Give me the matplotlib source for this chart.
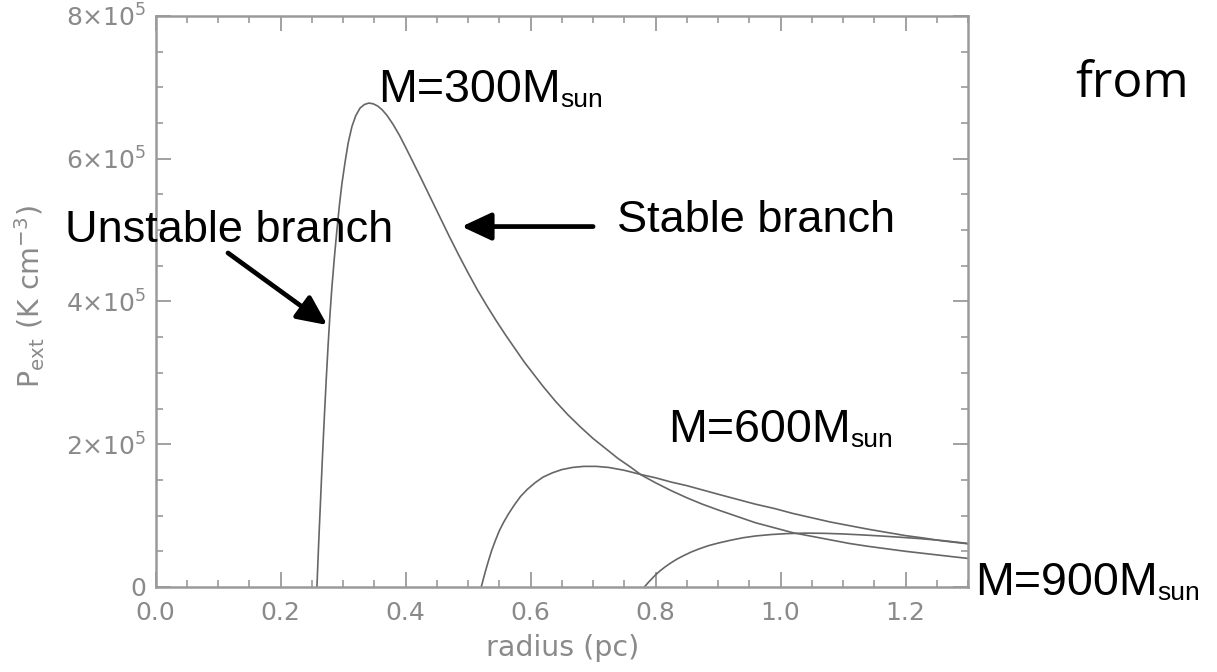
import matplotlib
matplotlib.use("Agg")
import matplotlib.pyplot as plt

# pressure-radius curves for three cloud masses (P in units of 1e5 K cm^-3)
r300 = [0.258, 0.261, 0.264, 0.267, 0.270, 0.273, 0.276, 0.279, 0.282, 0.286,
        0.290, 0.294, 0.298, 0.303, 0.308, 0.314, 0.320, 0.327, 0.334, 0.341,
        0.348, 0.355, 0.362, 0.370, 0.380, 0.390, 0.400, 0.412, 0.425, 0.440,
        0.455, 0.470, 0.485, 0.500, 0.515, 0.530, 0.545, 0.560, 0.575, 0.590,
        0.605, 0.620, 0.640, 0.660, 0.680, 0.700, 0.720, 0.740, 0.760, 0.777,
        0.800, 0.825, 0.850, 0.875, 0.900, 0.930, 0.960, 0.990, 1.020, 1.050,
        1.080, 1.110, 1.140, 1.170, 1.200, 1.230, 1.260, 1.300]
p300 = [0.0, 0.65, 1.25, 1.85, 2.40, 2.92, 3.40, 3.83, 4.20, 4.62,
        5.00, 5.35, 5.65, 5.95, 6.22, 6.45, 6.60, 6.71, 6.76, 6.78,
        6.77, 6.74, 6.69, 6.61, 6.48, 6.33, 6.16, 5.95, 5.72, 5.45,
        5.18, 4.91, 4.65, 4.40, 4.16, 3.94, 3.73, 3.53, 3.34, 3.15,
        2.98, 2.81, 2.60, 2.41, 2.24, 2.08, 1.94, 1.80, 1.68, 1.57,
        1.46, 1.35, 1.25, 1.16, 1.08, 0.99, 0.90, 0.83, 0.76, 0.71,
        0.66, 0.61, 0.57, 0.535, 0.50, 0.47, 0.44, 0.40]

r600 = [0.521, 0.524, 0.528, 0.533, 0.538, 0.544, 0.550, 0.557, 0.565, 0.574,
        0.584, 0.595, 0.607, 0.620, 0.635, 0.650, 0.667, 0.685, 0.705, 0.725,
        0.750, 0.777, 0.800, 0.825, 0.850, 0.875, 0.900, 0.930, 0.960, 0.990,
        1.020, 1.050, 1.080, 1.110, 1.140, 1.170, 1.200, 1.230, 1.260, 1.300]
p600 = [0.0, 0.10, 0.23, 0.38, 0.52, 0.66, 0.79, 0.91, 1.03, 1.15,
        1.27, 1.37, 1.46, 1.54, 1.60, 1.645, 1.675, 1.69, 1.69, 1.675,
        1.635, 1.575, 1.53, 1.47, 1.42, 1.36, 1.30, 1.23, 1.16, 1.10,
        1.03, 0.97, 0.91, 0.86, 0.81, 0.765, 0.72, 0.685, 0.645, 0.605]

r900 = [0.782, 0.785, 0.789, 0.794, 0.800, 0.807, 0.815, 0.824, 0.834, 0.845,
        0.857, 0.870, 0.885, 0.900, 0.920, 0.940, 0.960, 0.985, 1.010, 1.040,
        1.070, 1.100, 1.130, 1.160, 1.190, 1.220, 1.260, 1.300]
p900 = [0.0, 0.03, 0.07, 0.115, 0.17, 0.225, 0.28, 0.335, 0.39, 0.44,
        0.49, 0.535, 0.58, 0.615, 0.655, 0.69, 0.715, 0.735, 0.748, 0.755,
        0.752, 0.743, 0.73, 0.715, 0.698, 0.68, 0.65, 0.61]

xticks = [0.0, 0.2, 0.4, 0.6, 0.8, 1.0, 1.2]
xtick_labels = ["0.0", "0.2", "0.4", "0.6", "0.8", "1.0", "1.2"]
yticks = [0, 2e5, 4e5, 6e5, 8e5]
ytick_labels = ["0", r"$2{\times}10^{5}$", r"$4{\times}10^{5}$",
                r"$6{\times}10^{5}$", r"$8{\times}10^{5}$"]

W, H = 1217, 672
AX_GREY = "#9a9a9a"
TXT_GREY = "#8a8a8a"
LINE_GREY = "#666666"


def fx(px):
    return px / W


def fy(py):
    return 1 - py / H


fig = plt.figure(figsize=(W / 100, H / 100), dpi=100)
ax = fig.add_axes([fx(155.7), fy(587), (968 - 155.7) / W, (587 - 16) / H])

for r, p in [(r300, p300), (r600, p600), (r900, p900)]:
    ax.plot(r, [v * 1e5 for v in p], color=LINE_GREY, lw=1.2)

ax.set_xlim(0, 1.3)
ax.set_ylim(0, 8e5)
ax.set_xticks(xticks)
ax.set_xticklabels(xtick_labels)
ax.set_yticks(yticks)
ax.set_yticklabels(ytick_labels)
ax.set_xticks([i * 0.05 for i in range(27)], minor=True)
ax.set_yticks([i * 5e4 for i in range(17)], minor=True)

ax.tick_params(which="both", direction="in", top=True, right=True,
               color=AX_GREY, labelcolor=TXT_GREY, labelsize=18)
ax.tick_params(which="major", length=11, width=1.3)
ax.tick_params(which="minor", length=5, width=1.2)
ax.tick_params(axis="x", pad=10)
ax.tick_params(axis="y", pad=7)
for s in ax.spines.values():
    s.set_color(AX_GREY)
    s.set_linewidth(1.8)

fig.text(fx(563), fy(648), "radius (pc)", ha="center", va="center",
         color=TXT_GREY, fontsize=20.5)
fig.text(fx(30), fy(297), r"P$_{\rm ext}$ (K cm$^{-3}$)", ha="center",
         va="center", rotation=90, color=TXT_GREY, fontsize=20.5)

# annotations
LBL = dict(family="Liberation Sans", color="black", va="baseline", ha="left")


def mass_label(x, y, txt):
    t = fig.text(fx(x), fy(y), txt, fontsize=33.5, **LBL)
    # smaller "sun" subscript glued to the right of the main label
    ax.annotate("sun", xy=(1, 0), xycoords=t, ha="left", va="bottom",
                fontsize=19, family="Liberation Sans", color="black",
                annotation_clip=False)


mass_label(378, 102, "M=300M")
mass_label(668, 442, "M=600M")
mass_label(975, 595, "M=900M")

fig.text(fx(65), fy(242), "Unstable branch", fontsize=32.5, **LBL)
fig.text(fx(617), fy(232), "Stable branch", fontsize=32.5, **LBL)
fig.text(fx(1075), fy(97), "from", fontsize=36, family="Open Sans",
         color="black", va="baseline", ha="left")

arrow = dict(arrowstyle="-|>,head_length=0.9,head_width=0.42", lw=3.4,
             color="black", mutation_scale=20, shrinkA=0, shrinkB=0)
ax.annotate("", xy=(0.4896, 5.05e5), xytext=(0.700, 5.05e5),
            arrowprops=arrow, annotation_clip=False)
ax.annotate("", xy=(0.2746, 3.67e5), xytext=(0.1157, 4.68e5),
            arrowprops=arrow, annotation_clip=False)

fig.savefig("out.png", dpi=100)
